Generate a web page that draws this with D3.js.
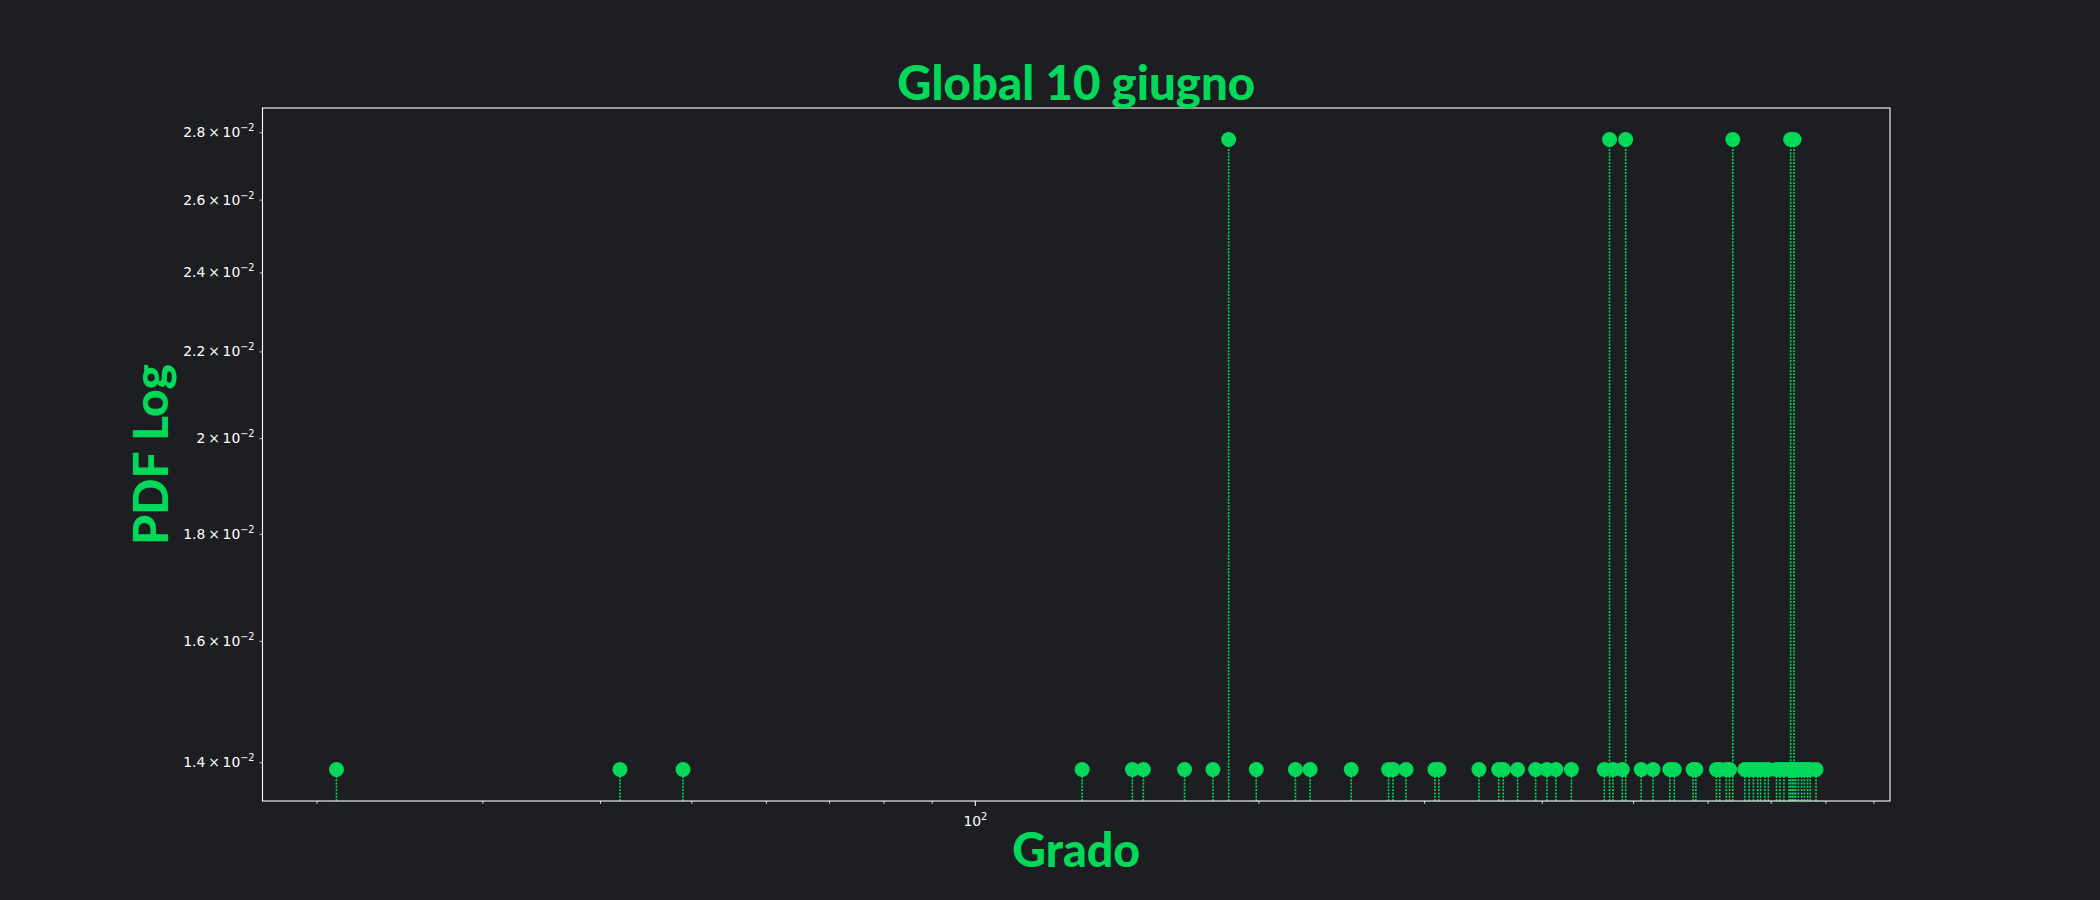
<!DOCTYPE html>
<html>
<head>
<meta charset="utf-8">
<script src="https://cdn.jsdelivr.net/npm/d3@7"></script>
<style>
  html, body { margin: 0; padding: 0; background: #1d1e22; }
  svg { display: block; }
</style>
</head>
<body>
<script>
// ---------------- data ----------------
const titleText = "Global 10 giugno";
const xLabelText = "Grado";
const yLabelText = "PDF Log";

const nodesTotal = 72;
const degrees = [21, 42, 49,
  130, 147, 151, 167, 179, 186, 199, 219, 227, 251, 275, 278, 287, 308, 311,
  343, 360, 364, 377, 394, 405, 414, 430, 466, 472, 476, 487, 491, 510, 525,
  547, 553, 579, 583, 613, 618, 628, 633, 638, 657, 664, 671, 678, 683, 690, 696,
  710, 716, 723, 732, 735, 738, 741, 744, 749, 755, 760, 766, 771, 782];
const counts = [1, 1, 1,
  1, 1, 1, 1, 1, 2, 1, 1, 1, 1, 1, 1, 1, 1, 1,
  1, 1, 1, 1, 1, 1, 1, 1, 1, 2, 1, 1, 2, 1, 1,
  1, 1, 1, 1, 1, 1, 1, 1, 2, 1, 1, 1, 1, 1, 1, 1,
  1, 1, 1, 1, 2, 1, 2, 1, 1, 1, 1, 1, 1, 1];

const xMajorTicks = [100];
const xMajorLabels = [["10", "2"]];
const xMinorTicks = [20, 30, 40, 50, 60, 70, 80, 90, 200, 300, 400, 500, 600, 700, 800, 900];
const yTicks = [0.014, 0.016, 0.018, 0.020, 0.022, 0.024, 0.026, 0.028];
const yTickMantissa = ["1.4", "1.6", "1.8", "2", "2.2", "2.4", "2.6", "2.8"];
const yTickExponent = "\u22122";

// ---------------- layout ----------------
const W = 2100, H = 900;
const mLeft = 262.5, mRight = 1890, mTop = 108, mBottom = 801;
const green = "#00d85a";
const bg = "#1d1e22";
const headFont = "Lato, 'Noto Sans', sans-serif";
const tickFont = "'DejaVu Sans', sans-serif";

const pts = degrees.map((d, i) => ({ x: d, y: counts[i] / nodesTotal }));

function logDomain(vals) {
  const lo = Math.log10(d3.min(vals)), hi = Math.log10(d3.max(vals));
  const m = (hi - lo) * 0.05;
  return [Math.pow(10, lo - m), Math.pow(10, hi + m)];
}

const x = d3.scaleLog().domain(logDomain(pts.map(p => p.x))).range([mLeft, mRight]);
const y = d3.scaleLog().domain(logDomain(pts.map(p => p.y))).range([mBottom, mTop]);

const svg = d3.select("body").append("svg")
  .attr("width", W).attr("height", H)
  .style("background", bg);

svg.append("rect").attr("width", W).attr("height", H).attr("fill", bg);

// stems
svg.append("g").selectAll("line").data(pts).join("line")
  .attr("x1", d => x(d.x)).attr("x2", d => x(d.x))
  .attr("y1", mBottom).attr("y2", d => y(d.y))
  .attr("stroke", green).attr("stroke-width", 1.6)
  .attr("stroke-dasharray", "2,1.3");

// markers
svg.append("g").selectAll("circle").data(pts).join("circle")
  .attr("cx", d => x(d.x)).attr("cy", d => y(d.y))
  .attr("r", 7.5).attr("fill", green);

// frame
svg.append("rect")
  .attr("x", mLeft).attr("y", mTop)
  .attr("width", mRight - mLeft).attr("height", mBottom - mTop)
  .attr("fill", "none").attr("stroke", "#ffffff").attr("stroke-width", 1.1);

// x axis: major
const xMajor = svg.append("g").attr("transform", `translate(0,${mBottom})`)
  .call(d3.axisBottom(x).tickValues(xMajorTicks).tickSize(4.9).tickPadding(4.9).tickFormat(""));
xMajor.select(".domain").remove();
xMajor.selectAll(".tick line").attr("stroke", "#ffffff").attr("stroke-width", 1.1);
xMajor.selectAll(".tick text").each(function (d, i) {
  const t = d3.select(this).text(null)
    .attr("fill", "#ffffff").attr("font-family", tickFont).attr("font-size", 13.9)
    .attr("dy", null).attr("y", 24.5).attr("text-anchor", "middle");
  t.append("tspan").text(xMajorLabels[i][0]);
  t.append("tspan").text(xMajorLabels[i][1]).attr("font-size", 9.7).attr("dy", -6);
});

// x axis: minor
const xMinor = svg.append("g").attr("transform", `translate(0,${mBottom})`)
  .call(d3.axisBottom(x).tickValues(xMinorTicks).tickSize(2.8).tickFormat(""));
xMinor.select(".domain").remove();
xMinor.selectAll(".tick line").attr("stroke", "#ffffff").attr("stroke-width", 0.8);

// y axis (minor ticks with labels)
const yAx = svg.append("g").attr("transform", `translate(${mLeft},0)`)
  .call(d3.axisLeft(y).tickValues(yTicks).tickSize(2.8).tickPadding(4.9).tickFormat(""));
yAx.select(".domain").remove();
yAx.selectAll(".tick line").attr("stroke", "#ffffff").attr("stroke-width", 0.8);
yAx.selectAll(".tick text").each(function (d, i) {
  const t = d3.select(this).text(null)
    .attr("fill", "#ffffff").attr("font-family", tickFont).attr("font-size", 13.9)
    .attr("dy", "0.32em").attr("text-anchor", "end").attr("x", -8);
  t.append("tspan").text(yTickMantissa[i] + "\u2009\u00d7\u200910");
  t.append("tspan").text(yTickExponent).attr("font-size", 9.7).attr("dy", -6);
});

// fit helper
function fit(sel, target) {
  const fs = 40;
  sel.attr("font-size", fs);
  const w = sel.node().getComputedTextLength();
  if (w > 0) sel.attr("font-size", fs * target / w);
}

const title = svg.append("text")
  .attr("x", (mLeft + mRight) / 2).attr("y", 100)
  .attr("text-anchor", "middle").attr("fill", green)
  .attr("font-family", headFont).attr("font-weight", 900)
  .text(titleText);
fit(title, 358);

const xl = svg.append("text")
  .attr("x", (mLeft + mRight) / 2).attr("y", 867)
  .attr("text-anchor", "middle").attr("fill", green)
  .attr("font-family", headFont).attr("font-weight", 900)
  .text(xLabelText);
fit(xl, 128);

const yl = svg.append("text")
  .attr("transform", `translate(168,${(mTop + mBottom) / 2}) rotate(-90)`)
  .attr("text-anchor", "middle").attr("fill", green)
  .attr("font-family", headFont).attr("font-weight", 900)
  .text(yLabelText);
fit(yl, 181);
</script>
</body>
</html>
